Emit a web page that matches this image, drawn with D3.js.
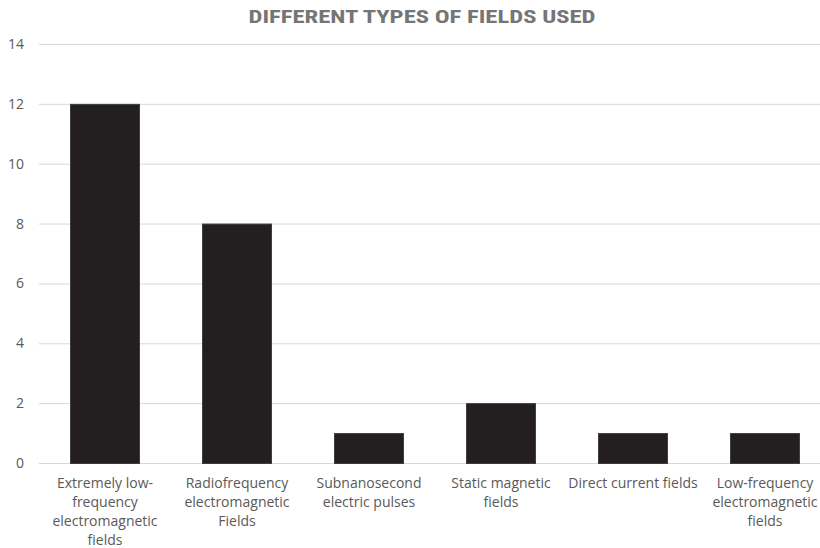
<!DOCTYPE html>
<html>
<head>
<meta charset="utf-8">
<script src="https://cdn.jsdelivr.net/npm/d3@7"></script>
<style>
  body { margin: 0; background: #fff; }
  svg { display: block; }
  .axis text { font-family: "Open Sans", "Noto Sans", sans-serif; fill: #595959; }
</style>
</head>
<body>
<div id="chart"></div>
<script>
// data
var categories = ["ELF", "RF", "SEP", "SMF", "DC", "LF"];
var labelLines = [
  ["Extremely low-", "frequency", "electromagnetic", "fields"],
  ["Radiofrequency", "electromagnetic", "Fields"],
  ["Subnanosecond", "electric pulses"],
  ["Static magnetic", "fields"],
  ["Direct current fields"],
  ["Low-frequency", "electromagnetic", "fields"]
];
var counts = [12, 8, 1, 2, 1, 1];
var yTicks = [0, 2, 4, 6, 8, 10, 12, 14];

var width = 820, height = 548;

var svg = d3.select("#chart")
  .append("svg")
  .attr("width", width)
  .attr("height", height);

// scales
var xscale = d3.scaleBand()
  .domain(categories)
  .range([39, 831])
  .paddingInner(0.47)
  .paddingOuter(0.235);

var yscale = d3.scaleLinear()
  .domain([0, 14])
  .range([463, 44]);

// gridlines
svg.append("g")
  .selectAll("line")
  .data(yTicks)
  .enter()
  .append("line")
  .attr("x1", 39)
  .attr("x2", 831)
  .attr("y1", function(d){ return yscale(d) + 0.5; })
  .attr("y2", function(d){ return yscale(d) + 0.5; })
  .style("stroke", "#d9d9d9")
  .style("stroke-width", 1);

// y axis labels
var yAxis = d3.axisLeft(yscale)
  .tickValues(yTicks)
  .tickSize(0)
  .tickPadding(0);

svg.append("g")
  .attr("class", "axis axis--y")
  .attr("transform", "translate(24,0)")
  .call(yAxis)
  .call(function(g){ g.select(".domain").remove(); })
  .selectAll("text")
  .style("font-size", "14px");

// bars
svg.append("g")
  .selectAll("rect")
  .data(counts)
  .enter()
  .append("rect")
  .attr("x", function(d, i){ return xscale(categories[i]) + 0.5; })
  .attr("y", function(d){ return yscale(d) + 0.5; })
  .attr("width", xscale.bandwidth() - 1)
  .attr("height", function(d){ return yscale(0) - yscale(d); })
  .style("fill", "#231f20")
  .style("stroke", "#3d3d3d")
  .style("stroke-width", 1);

// x axis labels
var xAxis = d3.axisBottom(xscale).tickSize(0).tickFormat("");
var gx = svg.append("g")
  .attr("class", "axis axis-x")
  .attr("transform", "translate(0,463)")
  .call(xAxis);
gx.select(".domain").remove();

gx.selectAll(".tick")
  .each(function(d, i){
    var t = d3.select(this).append("text")
      .attr("text-anchor", "middle")
      .style("font-size", "14px")
      .attr("y", 25);
    labelLines[i].forEach(function(line, j){
      t.append("tspan")
        .attr("x", 0)
        .attr("dy", j === 0 ? 0 : 18.9)
        .text(line);
    });
  });

// title
svg.append("text")
  .attr("x", 422)
  .attr("y", 23)
  .attr("text-anchor", "middle")
  .attr("textLength", 347)
  .attr("lengthAdjust", "spacingAndGlyphs")
  .style("font-family", "'Liberation Sans Narrow', 'Roboto Condensed', 'Liberation Sans', sans-serif")
  .style("font-weight", "bold")
  .style("font-size", "18px")
  .style("fill", "#757575")
  .text("DIFFERENT TYPES OF FIELDS USED");
</script>
</body>
</html>
